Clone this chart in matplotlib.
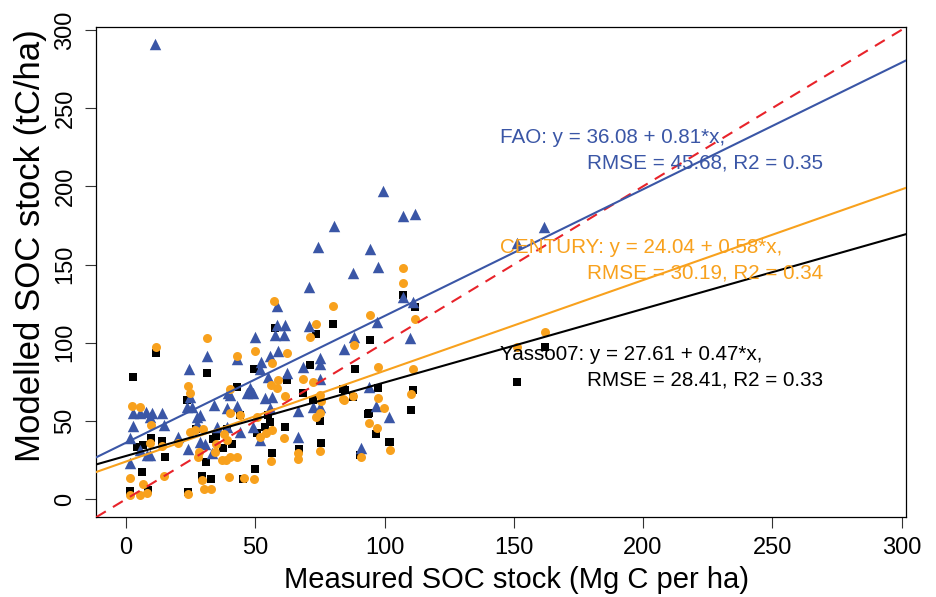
import numpy as np
import matplotlib
matplotlib.use("Agg")
import matplotlib.pyplot as plt

plt.rcParams['font.family'] = ['Liberation Sans', 'DejaVu Sans']

# Measured vs modelled SOC stock
fao_meas = [11.2, 99.4, 107.2, 111.8, 94.4, 97.5, 87.8, 80.5, 74.3, 107.2, 111.0, 97.1,
            88.2, 84.3, 109.9, 94.0, 96.7, 101.7, 90.9, 70.8, 58.4, 58.4, 61.5, 57.6,
            61.1, 70.8, 49.9, 31.3, 42.9, 24.4, 52.2, 55.7, 58.8, 68.5, 75.0, 75.0,
            62.3, 54.9, 75.0, 51.8, 24.8, 25.5, 48.0, 46.8, 49.1, 53.8, 56.5, 40.2,
            39.1, 34.0, 28.6, 23.6, 27.5, 2.7, 2.7, 5.4, 7.7, 10.1, 13.9, 9.3,
            14.7, 1.5, 44.1, 49.1, 39.1, 35.2, 27.5, 20.1, 24.0, 28.6, 30.6, 33.3,
            5.4, 8.1, 9.3, 1.5, 66.5, 55.7, 51.8, 66.5, 72.3, 75.0, 151.3, 161.7,
            42.9, 39.5]
fao_mod = [291.1, 197.1, 181.1, 182.4, 159.9, 148.4, 144.6, 174.6, 161.1, 129.3, 126.1, 113.3,
           103.7, 96.1, 103.1, 71.7, 59.6, 52.6, 32.7, 135.7, 123.5, 111.4, 111.4, 105.0,
           105.0, 110.7, 103.7, 91.6, 89.6, 83.2, 87.7, 91.6, 94.8, 84.5, 90.3, 86.4,
           80.7, 78.1, 76.8, 83.2, 65.3, 59.0, 71.1, 67.9, 67.9, 64.7, 65.3, 66.6,
           58.3, 60.2, 53.8, 58.9, 52.6, 55.1, 46.8, 55.1, 55.7, 55.1, 55.1, 52.6,
           47.4, 39.1, 43.0, 46.2, 46.2, 46.2, 48.1, 39.8, 32.1, 36.6, 35.3, 29.5,
           31.5, 28.3, 28.3, 23.1, 39.8, 58.3, 37.9, 56.4, 58.9, 58.9, 163.8, 174.0,
           59.6, 67.9]

cen_meas = [11.6, 107.2, 107.2, 94.4, 111.8, 88.2, 97.5, 111.0, 84.3, 87.8, 97.5, 110.3,
            94.0, 97.1, 102.1, 90.9, 99.8, 162.1, 151.3, 80.1, 57.3, 73.5, 71.2, 49.9,
            62.3, 56.5, 68.5, 72.3, 58.8, 56.1, 58.4, 61.5, 31.3, 42.9, 24.0, 24.8,
            40.2, 2.3, 5.4, 9.7, 75.0, 75.0, 83.9, 73.5, 75.0, 66.5, 66.5, 56.1,
            54.2, 51.8, 45.6, 49.5, 39.8, 29.4, 30.2, 32.9, 24.0, 1.5, 5.4, 6.6,
            8.1, 1.5, 14.7, 9.3, 13.9, 20.1, 24.8, 27.9, 34.8, 37.1, 38.7, 40.2,
            42.9, 50.7, 56.5, 40.2, 44.1, 28.2, 34.4, 39.1, 37.9, 26.7, 29.8, 61.1,
            75.4]
cen_mod = [97.3, 147.8, 138.2, 117.8, 115.2, 98.6, 84.5, 83.2, 63.4, 65.9, 64.7, 67.3,
           48.7, 45.5, 31.5, 27.0, 58.3, 106.9, 97.3, 123.5, 126.7, 112.0, 103.7, 94.8,
           93.5, 87.1, 76.8, 74.9, 76.2, 73.0, 71.1, 66.0, 103.1, 91.6, 72.4, 67.9,
           70.5, 59.6, 58.9, 47.4, 66.6, 55.1, 64.0, 52.6, 30.8, 25.7, 29.5, 24.4,
           42.5, 39.8, 13.6, 12.9, 14.2, 12.3, 6.5, 6.5, 3.3, 2.7, 2.7, 9.7,
           4.0, 13.6, 14.8, 35.9, 34.0, 35.9, 42.8, 27.0, 35.3, 25.1, 25.1, 27.0,
           27.0, 52.6, 44.2, 55.1, 53.8, 30.2, 30.2, 37.9, 41.7, 44.3, 44.9, 39.1,
           62.7]

yas_meas = [11.6, 2.7, 31.3, 49.5, 42.9, 107.2, 111.8, 80.1, 73.5, 57.6, 94.4, 71.2,
            88.6, 62.3, 68.5, 83.9, 97.5, 111.0, 72.3, 75.0, 61.5, 54.9, 93.6, 96.7,
            110.3, 75.4, 101.7, 66.9, 56.5, 49.9, 90.5, 45.3, 34.8, 15.1, 9.7, 13.9,
            6.2, 1.5, 8.5, 24.0, 29.4, 32.9, 30.9, 33.7, 37.5, 41.0, 39.1, 23.6,
            50.7, 53.8, 55.7, 4.3, 6.6, 151.3, 162.1, 94.0, 102.1, 84.7, 87.8, 44.1,
            27.1]
yas_mod = [93.5, 78.1, 80.7, 83.2, 71.7, 130.6, 122.9, 112.0, 105.6, 109.5, 101.8, 85.8,
           83.2, 76.2, 67.9, 70.5, 71.1, 69.8, 63.4, 50.0, 46.2, 53.8, 54.5, 41.7,
           57.0, 35.9, 36.6, 32.1, 29.5, 19.3, 28.3, 12.9, 40.4, 27.0, 39.1, 37.2,
           17.4, 5.3, 5.9, 4.6, 14.8, 12.9, 23.8, 38.5, 32.7, 35.3, 44.9, 63.7,
           42.5, 46.2, 49.4, 33.4, 34.7, 74.9, 97.3, 55.1, 36.6, 69.8, 65.3, 53.8,
           44.9]

# regression fits as printed on the figure
models = ["FAO", "CENTURY", "Yasso07"]
intercepts = [36.08, 24.04, 27.61]
slopes = [0.81, 0.58, 0.47]
rmse = [45.68, 30.19, 28.41]
r2 = [0.35, 0.34, 0.33]
label_y = [231.5, 161.0, 92.5]

blue = '#3A56A6'
orange = '#F8A11D'
colors = [blue, orange, 'black']

fig = plt.figure(figsize=(9.36, 5.97), dpi=100)
ax = fig.add_axes([96 / 936, 1 - 517.3 / 597, 809.7 / 936, 489.9 / 597])

ax.scatter(yas_meas, yas_mod, marker='s', s=38, c='black', linewidths=0, zorder=2)
ax.scatter(fao_meas, fao_mod, marker='^', s=68, c=blue, linewidths=0, zorder=2)
ax.scatter(cen_meas, cen_mod, marker='o', s=42, c=orange, linewidths=0, zorder=2)

ax.set_xlim(-11.6, 301.6)
ax.set_ylim(-11.6, 301.6)
xs = np.array(ax.get_xlim())

ax.plot(xs, xs, color='#E8232A', lw=1.5, dashes=(5.5, 4), zorder=3)
for a, b, col in zip(intercepts, slopes, colors):
    ax.plot(xs, a + b * xs, color=col, lw=1.5, zorder=3)

for name, a, b, e, r, ly, col in zip(models, intercepts, slopes, rmse, r2, label_y, colors):
    ax.text(144.7, ly, f"{name}: y = {a:.2f} + {b:.2f}*x,", color=col,
            fontsize=14.9, va='center', ha='left', zorder=4)
    ax.text(178.3, ly - 16.6, f"RMSE = {e:.2f}, R2 = {r:.2f}", color=col,
            fontsize=14.9, va='center', ha='left', zorder=4)

ax.set_xticks(np.arange(0, 301, 50))
ax.set_yticks(np.arange(0, 301, 50))
ax.tick_params(length=8, width=0.8, labelsize=17, pad=6, color='#333333')
ax.tick_params(axis='y', labelrotation=90)
for lab in ax.get_yticklabels():
    lab.set_va('center')
for sp in ax.spines.values():
    sp.set_linewidth(0.9)

ax.set_xlabel("Measured SOC stock (Mg C per ha)", fontsize=21, va='center')
ax.xaxis.set_label_coords((516 - 96) / 809.7, -0.128)
ax.set_ylabel("Modelled SOC stock (tC/ha)", fontsize=25, va='center')
ax.yaxis.set_label_coords((31 - 96) / 809.7, (517.3 - 246) / 489.9)

fig.savefig("out.png", dpi=100)
